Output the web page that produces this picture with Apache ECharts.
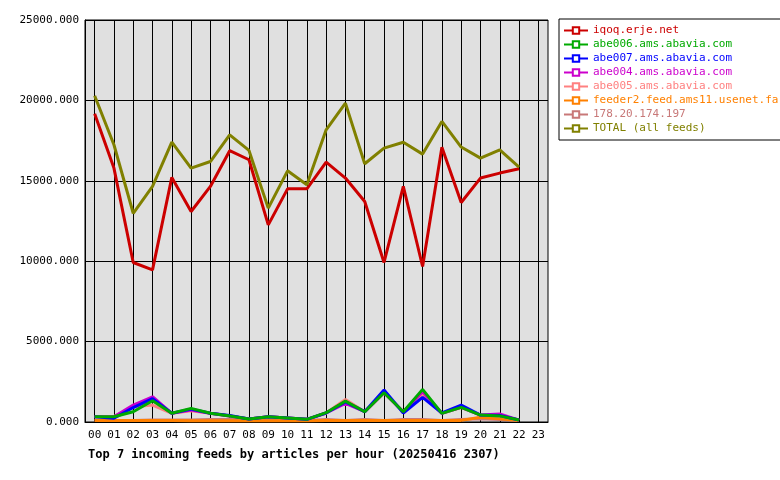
<!DOCTYPE html>
<html lang="en">
<head>
    <meta charset="UTF-8">
    <script src="https://cdn.jsdelivr.net/npm/echarts@6/dist/echarts.min.js"></script>
    <title>feeds</title>
    <style>body{margin:0;background:#fff;}</style>
</head>
<body>
    <div id="chart" style="width:780px;height:480px;"></div>
    <script type="text/javascript">
        var hours = ['00','01','02','03','04','05','06','07','08','09','10','11','12','13','14','15','16','17','18','19','20','21','22','23'];
        var names = ['iqoq.erje.net','abe006.ams.abavia.com','abe007.ams.abavia.com','abe004.ams.abavia.com','abe005.ams.abavia.com','feeder2.feed.ams11.usenet.farm','178.20.174.197','TOTAL (all feeds)'];
        var colors = ['#cc0000','#00aa00','#0000ff','#cc00cc','#ff8080','#ff8000','#c87878','#808000'];
        var iqoq   = [19170,15790,9920,9460,15210,13090,14650,16870,16310,12260,14500,14500,16160,15170,13710,9920,14650,9670,17080,13650,15170,15480,15750];
        var abe006 = [330,330,640,1320,540,850,540,370,190,330,250,165,580,1300,640,1820,640,2030,540,910,430,380,120];
        var abe007 = [330,230,900,1450,540,800,540,400,190,330,250,165,560,1250,640,1990,560,1530,560,1050,430,400,120];
        var abe004 = [330,330,1050,1570,540,750,540,370,190,330,250,165,560,1160,640,1820,640,1880,540,910,430,500,120];
        var abe005 = [330,330,950,1050,540,700,540,370,190,330,250,165,560,1400,640,1820,640,1700,540,910,430,380,120];
        var feeder2 = [100,100,100,100,100,80,80,80,80,80,80,80,100,100,100,100,100,100,100,100,300,200,100];
        var ip178  = [100,100,100,120,120,120,150,150,150,130,120,100,150,100,150,100,150,150,100,150,200,150,100];
        var total  = [20290,17240,12980,14650,17400,15790,16200,17860,16890,13300,15620,14750,18170,19830,16060,17030,17400,16660,18690,17100,16410,16930,15850];
        var yTicks = [0,5000,10000,15000,20000,25000];

        var seriesData = [iqoq, abe006, abe007, abe004, abe005, feeder2, ip178, total];
        var drawOrder = [7,0,1,2,3,4,5,6];
        var series = seriesData.map(function(d, i) {
            return {
                name: names[i], type: 'line', data: d, symbol: 'emptyRect', symbolSize: 3, showSymbol: false,
                lineStyle: {width: 3, color: colors[i]}, itemStyle: {color: colors[i]},
                z: 10 - drawOrder.indexOf(i), animation: false
            };
        });
        var mono = 'DejaVu Sans Mono';

        var chart = echarts.init(document.getElementById('chart'));
        chart.setOption({
            animation: false,
            backgroundColor: '#fff',
            grid: {left: 85, top: 20, right: 232, bottom: 58, show: true, backgroundColor: '#e0e0e0', borderColor: '#000', borderWidth: 1},
            title: {
                text: 'Top 7 incoming feeds by articles per hour (20250416 2307)',
                left: 83, top: 444,
                textStyle: {fontFamily: mono, fontSize: 12, fontWeight: 'bold', color: '#000'}
            },
            legend: {
                orient: 'vertical', left: 559, top: 19, width: 218,
                backgroundColor: '#fff', borderColor: '#000', borderWidth: 1,
                padding: [6, 4, 6, 4], itemGap: 3, itemWidth: 24, itemHeight: 8,
                data: names.map(function(n, i) { return {name: n, textStyle: {color: colors[i]}}; }),
                textStyle: {fontFamily: mono, fontSize: 11}
            },
            xAxis: {
                type: 'category', data: hours, boundaryGap: true,
                axisLine: {lineStyle: {color: '#000'}},
                axisTick: {show: false},
                axisLabel: {fontFamily: mono, fontSize: 11, color: '#000', interval: 0},
                splitLine: {show: true, alignWithLabel: true, interval: 0, lineStyle: {color: '#000', width: 1}}
            },
            yAxis: {
                type: 'value', min: 0, max: yTicks[yTicks.length - 1], interval: 5000,
                axisLine: {show: true, lineStyle: {color: '#000'}},
                axisTick: {show: false},
                axisLabel: {fontFamily: mono, fontSize: 11, color: '#000', margin: 6,
                    formatter: function(v) { return v.toFixed(3); }},
                splitLine: {show: true, lineStyle: {color: '#000', width: 1}}
            },
            series: series
        });
    </script>
</body>
</html>
